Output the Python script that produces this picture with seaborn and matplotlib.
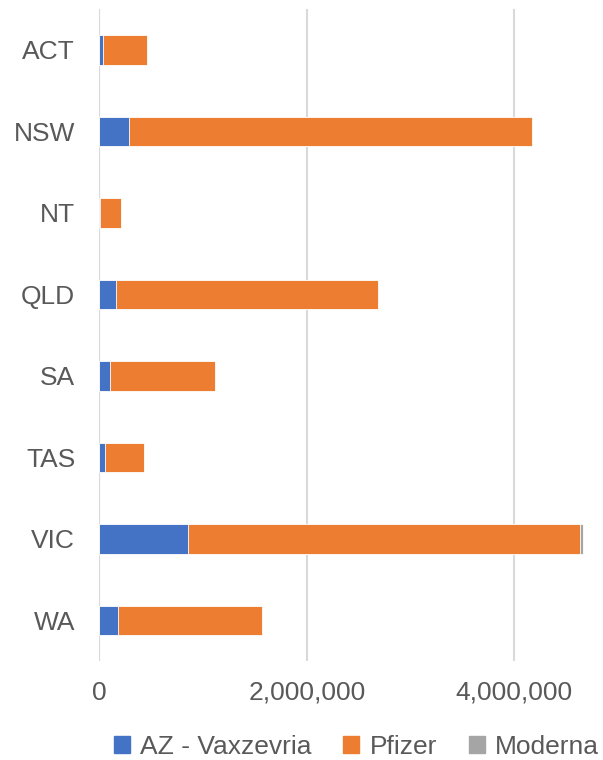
import pandas as pd
import matplotlib.pyplot as plt
import seaborn as sns
from matplotlib.patches import Patch
from matplotlib.ticker import FuncFormatter

# Doses per state
states = ['ACT', 'NSW', 'NT', 'QLD', 'SA', 'TAS', 'VIC', 'WA']
az = [35000, 280000, 5000, 159000, 105000, 53000, 853000, 183000]
pfizer = [425000, 3895000, 202000, 2531000, 1008000, 380000, 3779000, 1388000]
moderna = [0, 0, 0, 0, 0, 0, 35000, 0]

df = pd.DataFrame({'state': states, 'az': az, 'pfizer': pfizer, 'moderna': moderna})
df['lvl1'] = df['az']
df['lvl2'] = df['az'] + df['pfizer']
df['lvl3'] = df['lvl2'] + df['moderna']

c_az = '#4472c4'
c_pf = '#ed7d31'
c_mo = '#a5a5a5'
txt = '#595959'

sns.set_style('white')
plt.rcParams['font.family'] = ['Liberation Sans', 'DejaVu Sans']

fig = plt.figure(figsize=(6.03, 7.6), dpi=100)
ax = fig.add_axes([0.165, 0.130, 0.815, 0.858])

# stacked by drawing cumulative totals from the back
sns.barplot(data=df, x='lvl3', y='state', color=c_mo, width=0.36, ax=ax, saturation=1,
            edgecolor='white', linewidth=0.6, zorder=2)
sns.barplot(data=df, x='lvl2', y='state', color=c_pf, width=0.36, ax=ax, saturation=1,
            edgecolor='white', linewidth=0.6, zorder=3)
sns.barplot(data=df, x='lvl1', y='state', color=c_az, width=0.36, ax=ax, saturation=1,
            edgecolor='white', linewidth=0.6, zorder=4)

ax.set_xlim(0, 4740000)
ax.set_ylim(len(states) - 0.5, -0.5)
ax.set_xticks([0, 2000000, 4000000])
ax.xaxis.set_major_formatter(FuncFormatter(lambda v, p: f'{int(v):,}'))
ax.grid(axis='x', color='#d9d9d9', linewidth=1.5, zorder=0)
ax.set_axisbelow(True)
for s in ax.spines.values():
    s.set_visible(False)
ax.axvline(0, color='#d9d9d9', linewidth=1.5, zorder=1)
ax.set_xlabel('')
ax.set_ylabel('')
ax.tick_params(axis='x', labelsize=19, colors=txt, length=0, pad=14)
ax.tick_params(axis='y', labelsize=19, colors=txt, length=0, pad=17.5)

handles = [Patch(color=c_az, label='AZ - Vaxzevria'),
           Patch(color=c_pf, label='Pfizer'),
           Patch(color=c_mo, label='Moderna')]
fig.legend(handles=handles, loc='lower center', bbox_to_anchor=(0.591, -0.03), ncol=3,
           frameon=False, fontsize=19, labelcolor=txt, handlelength=0.6,
           handleheight=0.6, handletextpad=0.4, columnspacing=1.2)

fig.savefig('out.png', dpi=100)
